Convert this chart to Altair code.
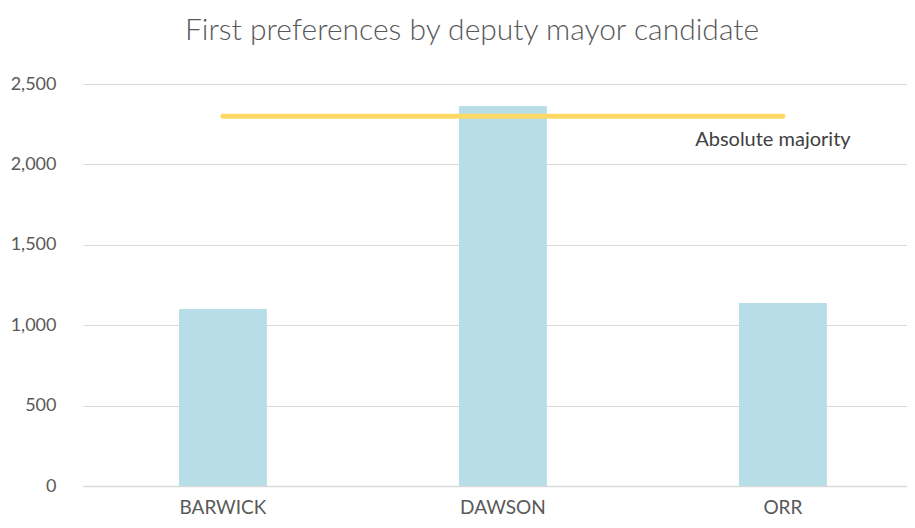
import altair as alt
import pandas as pd

candidates = ["BARWICK", "DAWSON", "ORR"]
first_prefs = [1101, 2363, 1138]
majority_value = 2300
majority_label = "Absolute majority"
y_ticks = [0, 500, 1000, 1500, 2000, 2500]

bars_df = pd.DataFrame({"candidate": candidates, "votes": first_prefs})
line_df = pd.DataFrame({"candidate": candidates, "votes": [majority_value] * len(candidates)})
label_df = pd.DataFrame({"candidate": [candidates[-1]], "votes": [majority_value], "label": [majority_label]})

FONT = "Lato"
GREY = "#595959"

x_enc = alt.X("candidate:N", sort=candidates,
              scale=alt.Scale(paddingInner=0.686, paddingOuter=0.3145, align=0.545),
              axis=alt.Axis(title=None, labelAngle=0, labelFont=FONT, labelFontSize=19,
                            labelColor=GREY, labelPadding=12, ticks=False,
                            domainColor="#d9d9d9", domainWidth=1.5))
y_enc = alt.Y("votes:Q", scale=alt.Scale(domain=[0, 2500], nice=False),
              axis=alt.Axis(title=None, values=y_ticks, format=",d", labelFont=FONT,
                            labelFontSize=18, labelColor=GREY, labelPadding=27,
                            ticks=False, domain=False, gridColor="#d9d9d9", gridWidth=1))

bars = alt.Chart(bars_df).mark_bar(color="#b7dde6").encode(x=x_enc, y=y_enc)
line = alt.Chart(line_df).mark_line(color="#ffd966", strokeWidth=5, strokeCap="round").encode(
    x=alt.X("candidate:N", sort=candidates), y="votes:Q")
text = alt.Chart(label_df).mark_text(font=FONT, fontSize=20, color="#404040", align="center",
                                      baseline="middle", dx=-10, dy=24).encode(
    x=alt.X("candidate:N", sort=candidates), y="votes:Q", text="label:N")

chart = alt.layer(bars, line, text).properties(
    width=824, height=402,
    title=alt.TitleParams("First preferences by deputy mayor candidate", font=FONT,
                          fontSize=30, fontWeight=300, color=GREY, anchor="middle",
                          dx=-23, offset=29),
    autosize=alt.AutoSizeParams(type="none"),
    padding={"left": 75, "top": 76, "right": 0, "bottom": 31},
).configure_view(stroke=None)

chart.save("out.html", embed_options={"renderer": "svg", "actions": False})
